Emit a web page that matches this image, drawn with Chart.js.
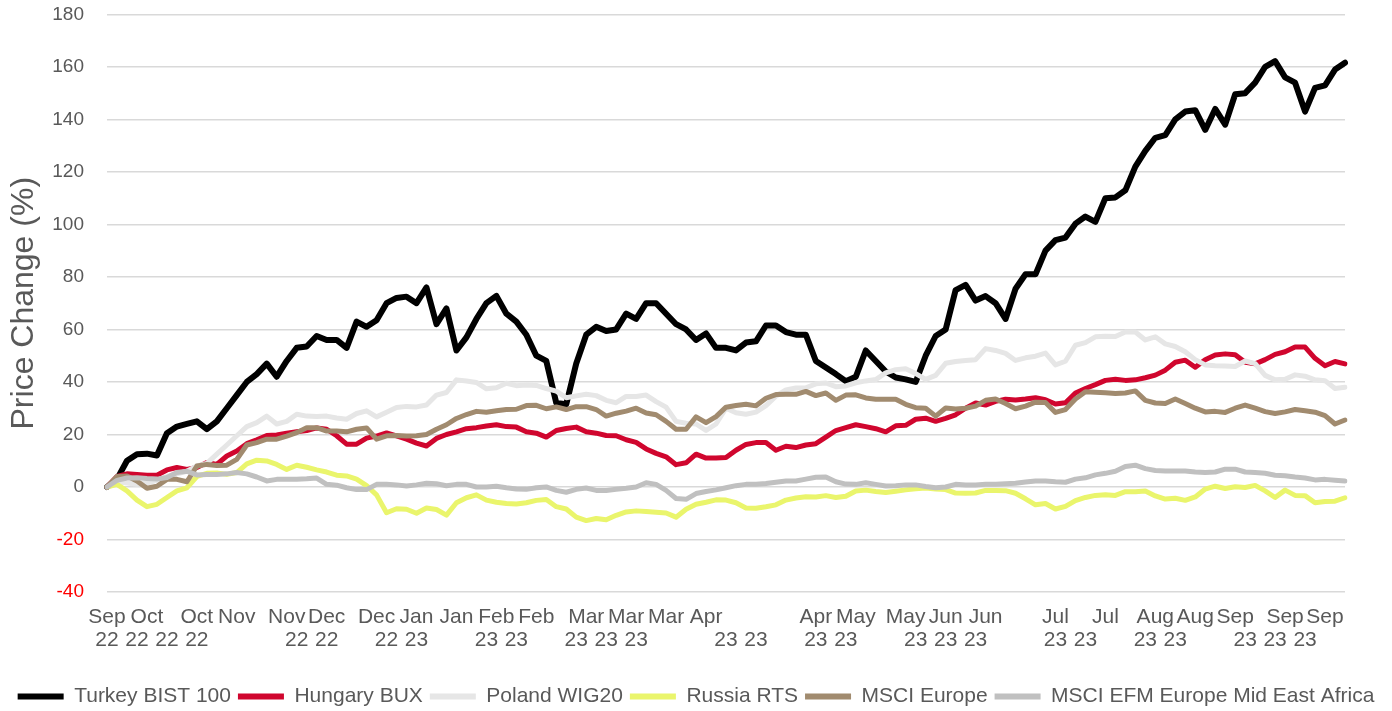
<!DOCTYPE html>
<html>
<head>
<meta charset="utf-8">
<script src="https://cdn.jsdelivr.net/npm/chart.js@4.4.0/dist/chart.umd.min.js"></script>
<style>
  html, body { margin: 0; padding: 0; background: #fff; }
  #wrap { width: 1392px; height: 711px; position: relative; }
</style>
</head>
<body>
<div id="wrap"><canvas id="chart"></canvas></div>
<script>
/* ===== Price change, Sep 2022 - Sep 2023 ===== */

const seriesNames = ['Turkey BIST 100', 'Hungary BUX', 'Poland WIG20', 'Russia RTS', 'MSCI Europe', 'MSCI EFM Europe Mid East Africa'];
const seriesColors = ['#000000', '#D0062E', '#E6E6E6', '#EAF56C', '#A18B6F', '#C0C0C0'];

const turkey = [
  0, 3, 10, 12.5, 12.7, 12, 20.5, 23, 24, 25,
  22, 25, 30, 35, 40, 43, 47, 42, 48, 53,
  53.5, 57.5, 56, 56, 53, 63, 61, 63.5, 70, 72,
  72.5, 70, 76, 62, 68, 52, 57, 64, 70, 72.8,
  66, 63, 58, 50, 48, 32, 31.5, 47, 58, 61,
  59.4, 60, 66, 64, 70, 70, 66, 62, 60, 56,
  58.5, 53, 53, 52, 55, 55.5, 61.5, 61.5, 59, 58,
  58, 48, 45.5, 43, 40.3, 42, 52, 48, 44, 41.7,
  41, 40, 50, 57.5, 60, 75, 77, 71, 72.7, 70,
  64, 75.5, 81, 81, 90, 94, 95, 100.3, 103, 101,
  110, 110.3, 113, 122, 128, 133, 134, 140, 143, 143.5,
  136, 144, 138, 149.6, 150, 154, 160, 162.2, 156, 154,
  143, 152, 153, 159, 161.6
];
const hungary = [
  0, 4, 5, 4.8, 4.5, 4.5, 6.5, 7.4, 6.7, 7.4,
  9.3, 8.6, 11.8, 13.7, 16.5, 18, 19.6, 19.8, 20.5, 21,
  21.5, 22.5, 22, 19.5, 16.3, 16.3, 18.6, 19.4, 20.6, 19.5,
  18.2, 16.7, 15.6, 18.5, 20, 21, 22.2, 22.6, 23.2, 23.7,
  23, 22.8, 21, 20.5, 19, 21.5, 22.3, 22.8, 21, 20.5,
  19.6, 19.5, 18, 17, 14.5, 12.8, 11.5, 8.5, 9.2, 12.5,
  11, 11, 11.2, 14, 16.2, 16.9, 16.9, 14, 15.5, 15,
  16, 16.5, 19, 21.5, 22.6, 23.7, 23, 22.2, 21, 23.3,
  23.5, 25.8, 26.2, 25, 26.1, 27.5, 30, 32, 31.2, 32.6,
  33.4, 33.1, 33.5, 34, 33.2, 31.6, 32.1, 35.8, 37.5, 39,
  40.6, 41, 40.6, 40.8, 41.6, 42.6, 44.5, 47.5, 48.3, 45.6,
  48.5, 50.3, 50.7, 50.4, 47.5, 46.9, 48.5, 50.5, 51.5, 53.3,
  53.3, 49, 46.2, 47.8, 46.9
];
const poland = [
  0, 2, 1.5, 1, 1.5, 2.5, 4, 5, 6, 8,
  9, 12.5, 16, 19.5, 23, 24.5, 27, 24, 25, 27.7,
  27, 26.8, 27, 26.3, 25.8, 28, 29, 26.7, 28.5, 30.3,
  30.7, 30.5, 31.2, 35, 36, 40.8, 40.4, 39.8, 37.4, 37.8,
  39.5, 38.6, 38.8, 38.7, 37.5, 36.5, 34, 34.7, 35.3, 34.8,
  33, 32.1, 34.5, 34.5, 35, 32.5, 30.4, 25, 24.3, 24,
  21.5, 24, 30, 28.3, 27.7, 28.5, 31, 34.6, 37, 37.7,
  37.8, 39.3, 39.6, 38.2, 38.5, 39.7, 40.4, 40.9, 43.5, 44.7,
  45, 43.2, 41, 42.5, 47.1, 47.8, 48.2, 48.5, 52.7, 52,
  50.9, 48.2, 49.2, 49.8, 51, 46.5, 47.9, 54, 55, 57.2,
  57.4, 57.3, 59, 59, 56, 57.2, 54.5, 53.5, 51.5, 48.5,
  46.5, 46.2, 46.1, 45.9, 48, 47, 42.5, 40.8, 41, 42.7,
  42.2, 40.8, 40.5, 37.5, 38
];
const russia = [
  0, 1, -1.5, -5, -7.5, -6.6, -4, -1.5, -0.3, 4,
  5.2, 5.3, 4.8, 5.5, 8.8, 10.2, 9.9, 8.6, 6.7, 8.3,
  7.5, 6.5, 5.7, 4.5, 4.2, 3, 0.5, -3, -9.8, -8.3,
  -8.5, -10, -8, -8.6, -10.7, -6, -4.1, -3, -5, -5.8,
  -6.3, -6.5, -6, -5.1, -4.8, -7.5, -8.4, -11.5, -12.8, -12,
  -12.5, -10.8, -9.5, -9.1, -9.3, -9.6, -9.9, -11.5, -8.5, -6.6,
  -5.8, -4.9, -5, -6, -8, -8.1, -7.5, -6.8, -5, -4.2,
  -3.7, -3.8, -3.3, -4, -3.5, -1.5, -1.2, -1.7, -2.1, -1.6,
  -1.1, -0.7, -0.4, -0.8, -1, -2.3, -2.4, -2.3, -1.3, -1.3,
  -1.4, -2.4, -4.5, -6.8, -6.3, -8.4, -7.4, -5.2, -4, -3.2,
  -3, -3.2, -1.8, -1.8, -1.5, -3.4, -4.6, -4.3, -5.1, -3.8,
  -0.8, 0.3, -0.6, 0.1, -0.2, 0.6, -1.5, -4, -1.2, -3.2,
  -3.3, -6, -5.5, -5.4, -4.1
];
const msciEurope = [
  0, 4, 4.2, 2.3, -0.5, 0.3, 2.9, 2.9, 2, 8,
  8.6, 8.2, 8.3, 10.5, 16, 16.9, 18.2, 18.2, 19.4, 20.7,
  22.6, 22.6, 21.3, 21.3, 21, 22, 22.5, 18.2, 19.5, 19.6,
  19.4, 19.5, 20, 22, 23.7, 26.1, 27.6, 28.8, 28.5, 29,
  29.5, 29.6, 31, 31.1, 29.8, 30.5, 29.5, 30.6, 30.6, 29.5,
  27, 28.1, 28.9, 30, 28.2, 27.5, 25, 22, 22, 26.7,
  24.5, 26.8, 30.4, 31, 31.5, 30.9, 33.8, 35.2, 35.3, 35.3,
  36.4, 34.8, 35.8, 33, 35, 35.1, 33.9, 33.4, 33.4, 33.4,
  31.5, 30.2, 30, 27, 30.1, 29.7, 30, 30.8, 33, 33.5,
  31.8, 29.8, 30.8, 32.3, 32.2, 28.4, 29.5, 33.5, 36.3, 36.1,
  35.9, 35.6, 35.8, 36.6, 33, 32, 31.8, 33.5, 31.8, 30,
  28.6, 28.8, 28.4, 30, 31.2, 30, 28.7, 28, 28.6, 29.5,
  29, 28.5, 27.2, 24, 25.5
];
const msciEfm = [
  0, 2.5, 3.4, 3.5, 3.2, 3, 3.6, 5.5, 6, 4.6,
  4.8, 4.8, 5, 5.5, 5, 3.8, 2.3, 2.9, 2.9, 2.9,
  3.1, 3.4, 1, 0.7, -0.3, -1, -1, 1, 1, 0.8,
  0.4, 0.8, 1.4, 1.2, 0.5, 1, 1, 0, 0, 0.3,
  -0.3, -0.8, -0.9, -0.3, 0, -1.3, -2, -0.9, -0.4, -1.3,
  -1.3, -0.9, -0.5, 0, 1.6, 1, -1.3, -4.4, -4.7, -2.5,
  -1.7, -1.1, -0.3, 0.5, 1, 1, 1.3, 1.8, 2.3, 2.3,
  3, 3.7, 3.8, 2, 1.1, 1, 1.6, 1, 0.4, 0.5,
  0.8, 0.8, 0.2, -0.3, 0, 1, 0.8, 0.8, 1, 1,
  1.2, 1.4, 1.9, 2.3, 2.3, 2, 1.8, 3, 3.5, 4.6,
  5.2, 6, 7.8, 8.3, 7, 6.3, 6.1, 6.1, 6.1, 5.7,
  5.5, 5.7, 6.8, 6.8, 5.7, 5.5, 5.2, 4.5, 4.3, 3.8,
  3.4, 2.7, 2.9, 2.6, 2.3
];
const seriesData = [turkey, hungary, poland, russia, msciEurope, msciEfm];

// category axis: one entry per sampled trading day
const dates = [];
for (let i = 0; i < turkey.length; i++) {
  const d = new Date(2022, 8, 20 + Math.round(i * 365 / (turkey.length - 1)));
  dates.push(d.toISOString().slice(0, 10));
}

// x tick text, as the source chart printed it (month line / year line)
const monthTickIdx = [0, 4, 9, 13, 18, 22, 27, 31, 35, 39, 43, 48, 52, 56, 60, 71, 75, 80, 84, 88, 95, 100, 105, 109, 113, 118, 122];
const monthTickText = ['Sep', 'Oct', 'Oct', 'Nov', 'Nov', 'Dec', 'Dec', 'Jan', 'Jan', 'Feb', 'Feb', 'Mar', 'Mar', 'Mar', 'Apr', 'Apr', 'May', 'May', 'Jun', 'Jun', 'Jul', 'Jul', 'Aug', 'Aug', 'Sep', 'Sep', 'Sep'];
const yearTickIdx = [0, 3, 6, 9, 19, 22, 28, 31, 38, 41, 47, 50, 53, 62, 65, 71, 74, 81, 84, 87, 95, 98, 104, 107, 114, 117, 120];
const yearTickText = ['22', '22', '22', '22', '22', '22', '22', '23', '23', '23', '23', '23', '23', '23', '23', '23', '23', '23', '23', '23', '23', '23', '23', '23', '23', '23', '23'];

const yMin = -40, yMax = 180, yStep = 20;

const FONT = "'Liberation Sans', Arial, sans-serif";
const TEXT = '#595959';

const xTickLines = dates.map((d, i) => {
  const m = monthTickIdx.indexOf(i);
  const y = yearTickIdx.indexOf(i);
  if (m < 0 && y < 0) return '';
  return [m >= 0 ? monthTickText[m] : '', y >= 0 ? yearTickText[y] : ''];
});

new Chart(document.getElementById('chart'), {
  type: 'line',
  data: {
    labels: dates,
    datasets: seriesNames.map((name, i) => ({
      label: name,
      data: seriesData[i],
      borderColor: seriesColors[i],
      backgroundColor: seriesColors[i],
      borderWidth: i === 0 ? 6 : 5,
      pointRadius: 0,
      tension: 0,
      borderJoinStyle: 'round',
      borderCapStyle: 'round',
      order: seriesNames.length - i,
    })),
  },
  options: {
    responsive: true,
    maintainAspectRatio: false,
    animation: false,
    layout: { padding: { top: 14, right: 0, left: 0, bottom: -6 } },
    plugins: {
      tooltip: { enabled: false },
      legend: {
        position: 'bottom',
        labels: {
          color: TEXT,
          font: { family: FONT, size: 21 },
          boxWidth: 46,
          boxHeight: 6,
          padding: 7,
          sort: (a, b) => a.datasetIndex - b.datasetIndex,
          generateLabels: (chart) =>
            Chart.defaults.plugins.legend.labels.generateLabels(chart).map(l => ({ ...l, lineWidth: 0 })),
        },
      },
    },
    scales: {
      x: {
        grid: { display: false, drawTicks: false },
        border: { display: false },
        ticks: {
          autoSkip: false,
          maxRotation: 0,
          minRotation: 0,
          padding: 14,
          color: TEXT,
          font: { family: FONT, size: 21, lineHeight: 1.1 },
          callback: (v, i) => xTickLines[i],
        },
        afterFit: (scale) => { scale.height = 87; },
      },
      y: {
        min: yMin,
        max: yMax,
        grid: { color: '#D9D9D9', lineWidth: 1.5, drawTicks: true, tickLength: 20, tickColor: 'rgba(0,0,0,0)' },
        border: { display: false },
        ticks: {
          stepSize: yStep,
          padding: 3,
          color: (ctx) => (ctx.tick.value < 0 ? '#FF0000' : TEXT),
          font: { family: FONT, size: 19 },
        },
        title: {
          display: true,
          text: 'Price Change (%)',
          color: TEXT,
          font: { family: FONT, size: 32 },
          padding: { top: 5, bottom: 0 },
        },
        afterFit: (scale) => { scale.width = 107; },
      },
      // empty strip on the right, keeps the plot clear of the canvas edge
      yRight: {
        position: 'right',
        min: yMin,
        max: yMax,
        grid: { display: false, drawTicks: false },
        border: { display: false },
        ticks: { display: false },
        afterFit: (scale) => { scale.width = 47; },
      },
    },
  },
});
</script>
</body>
</html>
